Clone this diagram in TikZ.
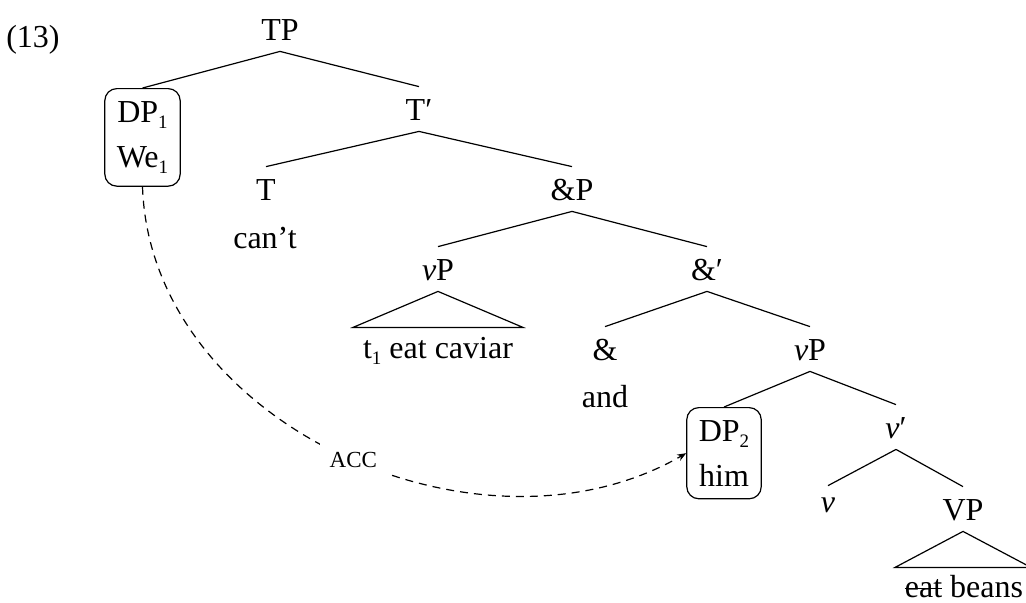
\documentclass[tikz,border=0pt]{standalone}
\usepackage{fontspec}
\setmainfont{Liberation Serif}
\usetikzlibrary{arrows.meta}
\newsavebox\strikebox
\newcommand\mystrike[1]{\sbox\strikebox{#1}\rlap{\rule[0.24em]{\wd\strikebox}{0.045em}}\usebox\strikebox}
\newcommand\idx[1]{\raisebox{-0.2em}{\fontsize{9.5}{9.5}\selectfont #1}}
\begin{document}
\begin{tikzpicture}[x=0.5pt,y=-0.5pt,
  lab/.style={anchor=base,inner sep=0pt,text height=16.5pt,text depth=5.5pt,font=\fontsize{16}{22.5}\selectfont},
  word/.style={anchor=base,inner sep=0pt,font=\fontsize{16}{22.5}\selectfont},
  dpbox/.style={draw,rounded corners=6pt,anchor=north,align=center,inner xsep=6pt,inner ysep=6.3pt,font=\fontsize{16}{22.5}\selectfont,line width=0.6pt},
  edge/.style={line width=0.6pt},
  casearrow/.style={line width=0.6pt,dash pattern=on 4pt off 3pt,-{Stealth[length=4.5pt,width=3.5pt]}},
  caselab/.style={fill=white,inner sep=5pt,font=\fontsize{11.5}{13}\selectfont}
  ]
\useasboundingbox (0,0) rectangle (1026,602);
\node[word] (ex) at (33,47) {(13)};
\node[lab] (TP) at (280,40) {TP};
\node[dpbox,minimum width=35.5pt] (DP1) at (142.5,88) {DP\idx{1}\\We\idx{1}};
\node[lab] (Tbar) at (419,120) {T′};
\node[lab] (T) at (266,200) {T};
\node[word] (cant) at (265,248) {can’t};
\node[lab] (andP) at (572,200) {\&P};
\node[lab] (vP1) at (438,280) {\textit{ν}P};
\node[word] (cav) at (438,358) {t\idx{1} eat caviar};
\node[lab] (andbar) at (707,280) {\&′};
\node[lab] (and) at (605,360) {\&};
\node[word] (andw) at (605,407) {and};
\node[lab] (vP2) at (810,360) {\textit{ν}P};
\node[dpbox,minimum width=37pt] (DP2) at (724,407) {DP\idx{2}\\him};
\node[lab] (vbar) at (896,438) {\textit{ν}′};
\node[lab,text height=13pt] (v) at (828,512) {\textit{ν}};
\node[lab] (VP) at (963,520) {VP};
\node[word] (beans) at (964,597) {\mystrike{eat} beans};

\draw[edge] (TP.south) -- (DP1.north);
\draw[edge] (TP.south) -- (Tbar.north);
\draw[edge] (Tbar.south) -- (T.north);
\draw[edge] (Tbar.south) -- (andP.north);
\draw[edge] (andP.south) -- (vP1.north);
\draw[edge] (andP.south) -- (andbar.north);
\draw[edge] (andbar.south) -- (and.north);
\draw[edge] (andbar.south) -- (vP2.north);
\draw[edge] (vP2.south) -- (DP2.north);
\draw[edge] (vP2.south) -- (vbar.north);
\draw[edge] (vbar.south) -- (v.north);
\draw[edge] (vbar.south) -- (VP.north);
\draw[edge] (vP1.south) -- ++(-85,36) -- ++(170,0) -- cycle;
\draw[edge] (VP.south) -- ++(-68,36) -- ++(136,0) -- cycle;

\draw[casearrow] (DP1.south) .. controls +(8,238) and +(-206,119) .. node[caselab,pos=0.52] (acc) {ACC} (DP2.west);
\end{tikzpicture}
\end{document}
